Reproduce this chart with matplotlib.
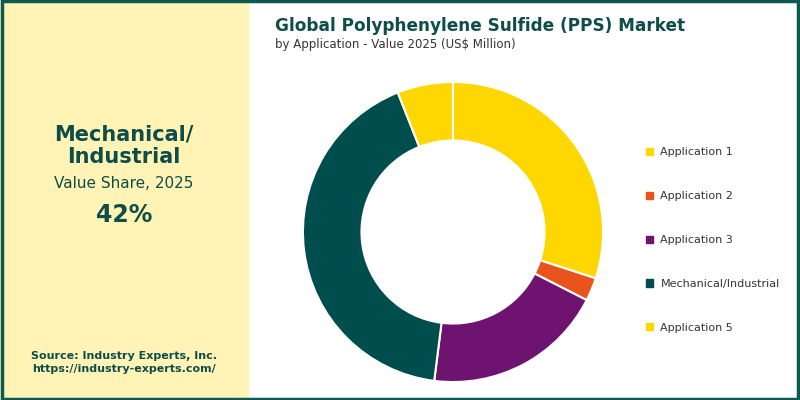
import matplotlib.pyplot as plt
from matplotlib.patches import Rectangle

labels = ["Application 1", "Application 2", "Application 3", "Mechanical/Industrial", "Application 5"]
values = [30.0, 2.5, 19.5, 42.0, 6.0]
colors = ["#FFD700", "#E8541C", "#6E1470", "#004D4D", "#FFD700"]

fig = plt.figure(figsize=(8, 4), dpi=100)
fig.patch.set_facecolor("white")

# left panel
fig.patches.append(Rectangle((0, 0), 0.31, 1, transform=fig.transFigure, color="#FFF3B5", zorder=0))
fig.patches.append(Rectangle((0.002, 0.003), 0.995, 0.994, transform=fig.transFigure,
                             fill=False, edgecolor="#0E5A52", linewidth=2.5, zorder=5))

dark = "#0E4D4A"
fig.text(0.155, 0.635, "Mechanical/\nIndustrial", ha="center", va="center", fontsize=15,
         fontweight="bold", color=dark, linespacing=1.15)
fig.text(0.155, 0.54, "Value Share, 2025", ha="center", va="center", fontsize=11, color=dark)
fig.text(0.155, 0.463, "42%", ha="center", va="center", fontsize=17, fontweight="bold", color=dark)
fig.text(0.155, 0.093, "Source: Industry Experts, Inc.\nhttps://industry-experts.com/", ha="center",
         va="center", fontsize=8, color=dark, fontweight="semibold", linespacing=1.4)

fig.text(0.344, 0.935, "Global Polyphenylene Sulfide (PPS) Market", fontsize=12.2,
         fontweight="bold", color=dark, va="center")
fig.text(0.344, 0.888, "by Application - Value 2025 (US$ Million)", fontsize=8.5, color="#333333", va="center")

ax = fig.add_axes([(453 - 152) / 800, (400 - 232 - 152) / 400, 304 / 800, 304 / 400])
ax.pie(values, colors=colors, startangle=90, counterclock=False, radius=1,
       wedgeprops=dict(width=0.39, edgecolor="white", linewidth=1.5))
ax.set_xlim(-1.013, 1.013)
ax.set_ylim(-1.013, 1.013)
ax.set_aspect("equal")

handles = [plt.Rectangle((0, 0), 1, 1, color=c) for c in colors]
fig.legend(handles, labels, loc="center left", bbox_to_anchor=(0.795, 0.4), frameon=False,
           fontsize=8, labelspacing=3.05, handlelength=0.6, handleheight=0.6, handletextpad=0.7,
           labelcolor="#333333")

fig.savefig("out.png", dpi=100)
